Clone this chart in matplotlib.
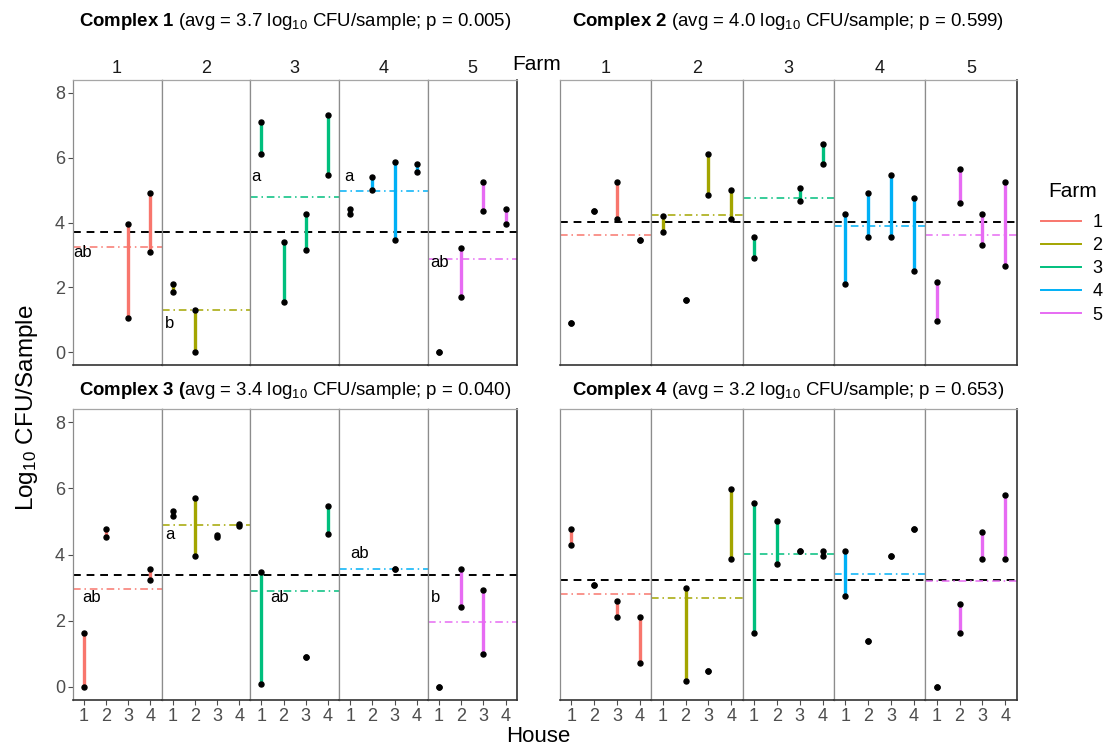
import matplotlib
matplotlib.use('Agg')
import matplotlib.pyplot as plt
from matplotlib.lines import Line2D

plt.rcParams['font.family'] = ['Liberation Sans', 'DejaVu Sans']
plt.rcParams['mathtext.fontset'] = 'custom'
plt.rcParams['mathtext.rm'] = 'Liberation Sans'
plt.rcParams['mathtext.bf'] = 'Liberation Sans:bold'
plt.rcParams['mathtext.it'] = 'Liberation Sans:italic'

# ---------------- data ----------------
farms = [1, 2, 3, 4, 5]
houses = [1, 2, 3, 4]
farm_colors = ['#F8766D', '#A3A500', '#00BF7D', '#00B0F6', '#E76BF3']
y_ticks = [0, 2, 4, 6, 8]

complex_names = ['Complex 1', 'Complex 2', 'Complex 3', 'Complex 4']
complex_avg = [3.72, 4.01, 3.39, 3.24]
complex_p = ['0.005', '0.599', '0.040', '0.653']

# max / min log10 CFU per house (rows = farms, cols = houses); None = no sample
c1_max = [[None, None, 3.96, 4.92], [2.11, 1.30, None, None], [7.09, 3.40, 4.28, 7.32],
          [4.43, 5.41, 5.88, 5.81], [0.00, 3.23, 5.24, 4.43]]
c1_min = [[None, None, 1.06, 3.08], [1.86, 0.00, None, None], [6.12, 1.55, 3.15, 5.48],
          [4.28, 5.00, 3.47, 5.56], [0.00, 1.70, 4.35, 3.96]]
c2_max = [[0.90, 4.35, 5.24, 3.47], [4.20, 1.62, 6.12, 5.00], [3.55, None, 5.08, 6.44],
          [4.28, 4.92, 5.48, 4.76], [2.18, 5.64, 4.28, 5.24]]
c2_min = [[0.90, 4.35, 4.11, 3.47], [3.71, 1.62, 4.84, 4.11], [2.90, None, 4.68, 5.80],
          [2.10, 3.55, 3.55, 2.50], [0.98, 4.60, 3.30, 2.67]]
c3_max = [[1.62, 4.76, None, 3.55], [5.33, 5.72, 4.58, 4.92], [3.47, None, 0.90, 5.48],
          [None, None, 3.55, None], [0.00, 3.55, 2.92, None]]
c3_min = [[0.00, 4.52, None, 3.22], [5.16, 3.95, 4.52, 4.85], [0.09, None, 0.90, 4.61],
          [None, None, 3.55, None], [0.00, 2.41, 0.98, None]]
c4_max = [[4.76, 3.07, 2.59, 2.10], [None, 2.99, 0.49, 5.97], [5.56, 5.00, 4.11, 4.11],
          [4.11, 1.38, 3.95, 4.76], [0.00, 2.50, 4.68, 5.80]]
c4_min = [[4.28, 3.07, 2.10, 0.73], [None, 0.17, 0.49, 3.87], [1.62, 3.71, 4.11, 3.95],
          [2.75, 1.38, 3.95, 4.76], [0.00, 1.62, 3.87, 3.87]]

c1_farm_mean = [3.24, 1.31, 4.80, 4.98, 2.87]
c2_farm_mean = [3.62, 4.24, 4.75, 3.90, 3.62]
c3_farm_mean = [2.95, 4.89, 2.91, 3.55, 1.97]
c4_farm_mean = [2.80, 2.69, 4.01, 3.40, 3.20]

# significance letters per farm (empty = none)
c1_letters = ['ab', 'b', 'a', 'a', 'ab']
c3_letters = ['ab', 'a', 'ab', 'ab', 'b']
c2_letters = ['', '', '', '', '']
c4_letters = ['', '', '', '', '']

# ---------------- layout / style ----------------
c_max = [c1_max, c2_max, c3_max, c4_max]
c_min = [c1_min, c2_min, c3_min, c4_min]
c_mean = [c1_farm_mean, c2_farm_mean, c3_farm_mean, c4_farm_mean]
c_letters = [c1_letters, c2_letters, c3_letters, c4_letters]
# letter anchor (house position, value) for each farm
c1_letter_pos = [(0.52, 3.07), (0.65, 0.88), (0.55, 5.42), (0.72, 5.42), (0.62, 2.78)]
c3_letter_pos = [(0.95, 2.69), (0.65, 4.60), (1.42, 2.69), (1.00, 4.04), (0.62, 2.69)]
letter_pos = [c1_letter_pos, None, c3_letter_pos, None]

W, H = 1106, 745
fig = plt.figure(figsize=(W / 100, H / 100), dpi=100)

# pixel boxes: x0, ytop, x1, ybottom
boxes = [(72.7, 80.0, 516.7, 365.3), (560.0, 80.0, 1016.7, 365.3),
         (72.7, 409.0, 516.7, 700.0), (560.0, 409.0, 1016.7, 700.0)]
title_y = [22, 22, 390.5, 390.5]

tick_col = '#4D4D4D'
inner_col = '#8C8C8C'
outer_col = '#333333'

for ci in range(4):
    x0, yt, x1, yb = boxes[ci]
    fw = (x1 - x0) / 5
    for fi in range(5):
        ax = fig.add_axes([(x0 + fi * fw) / W, 1 - yb / H, fw / W, (yb - yt) / H])
        ax.set_xlim(0.5, 4.5)
        ax.set_ylim(-0.4, 8.4)
        col = farm_colors[fi]
        # overall and farm means
        ax.axhline(complex_avg[ci], color='black', lw=1.4, dashes=(4, 3), zorder=2)
        ax.axhline(c_mean[ci][fi], color=col, lw=1.1, dashes=(5, 2.5, 1, 2.5), zorder=2)
        for hi, h in enumerate(houses):
            vmax = c_max[ci][fi][hi]
            vmin = c_min[ci][fi][hi]
            if vmax is None:
                continue
            if vmax != vmin:
                ax.plot([h, h], [vmin, vmax], color=col, lw=2.4, solid_capstyle='butt', zorder=3)
            ax.plot([h, h], [vmin, vmax], 'o', color='black', ms=3.6, zorder=4)
        lab = c_letters[ci][fi]
        if lab:
            lx, ly = letter_pos[ci][fi]
            ax.text(lx, ly, lab, fontsize=12, ha='left', va='center', color='black', zorder=5)
        # spines
        for s in ['top', 'left', 'right', 'bottom']:
            ax.spines[s].set_color(inner_col)
            ax.spines[s].set_linewidth(0.9)
        ax.spines['top'].set_color('#A6A6A6')
        if fi == 4:
            ax.spines['right'].set_color(outer_col)
            ax.spines['right'].set_linewidth(1.2)
        ax.spines['bottom'].set_color(outer_col)
        ax.spines['bottom'].set_linewidth(1.2)
        # ticks
        ax.tick_params(axis='both', colors=tick_col, length=3.5, width=0.8, labelsize=13,
                       labelcolor=tick_col, pad=2)
        if ci >= 2:
            ax.set_xticks(houses)
            ax.set_xticklabels([str(h) for h in houses])
        else:
            ax.set_xticks([])
        if fi == 0 and ci in (0, 2):
            ax.set_yticks(y_ticks)
            ax.set_yticklabels([str(v) for v in y_ticks])
        else:
            ax.set_yticks([])
        # farm strip labels on top row
        if ci < 2:
            fig.text((x0 + (fi + 0.5) * fw) / W, 1 - 68.3 / H, str(farms[fi]),
                     fontsize=13, ha='center', va='center', color='#1A1A1A')
    # panel title
    nm = complex_names[ci].replace(' ', r'\ ')
    if ci == 2:
        title = (r'$\bf{' + nm + r'\ (}$' + 'avg = %.1f log$_{10}$ CFU/sample; p = %s)'
                 % (complex_avg[ci], complex_p[ci]))
    else:
        title = (r'$\bf{' + nm + '}$' + ' (avg = %.1f log$_{10}$ CFU/sample; p = %s)'
                 % (complex_avg[ci], complex_p[ci]))
    fig.text((x0 + x1) / 2 / W, 1 - title_y[ci] / H, title,
             fontsize=13.4, ha='center', va='center', color='black')

# strip title between the top panels
fig.text(537 / W, 1 - 65 / H, 'Farm', fontsize=15, ha='center', va='center', color='black')

# axis titles
fig.text(27 / W, 1 - 408 / H, r'Log$_{10}$ CFU/Sample', rotation=90, fontsize=17.5,
         ha='center', va='center')
fig.text(538 / W, 1 - 736 / H, 'House', fontsize=16, ha='center', va='center')

# legend
fig.text(1048 / W, 1 - 191.7 / H, 'Farm', fontsize=15, ha='left', va='center')
handles = [Line2D([0], [0], color=c, lw=1.4) for c in farm_colors]
leg = fig.legend(handles, [str(f) for f in farms], loc='upper left',
                 bbox_to_anchor=(1041 / W, 1 - 214 / H), frameon=False, fontsize=13,
                 borderpad=0, borderaxespad=0, handlelength=2.2, labelspacing=0.34,
                 handletextpad=0.65)

fig.savefig('out.png', dpi=100)
